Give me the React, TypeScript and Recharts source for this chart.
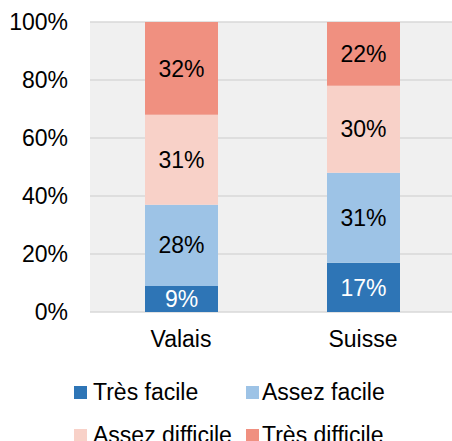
import { BarChart, Bar, XAxis, YAxis, CartesianGrid, LabelList } from 'recharts';

const regions = ['Valais', 'Suisse'];
const tresFacile = [9, 17];
const assezFacile = [28, 31];
const assezDifficile = [31, 30];
const tresDifficile = [32, 22];
const yTicks = [0, 20, 40, 60, 80, 100];

const series = [
  { key: 'tresFacile', name: 'Très facile', color: '#2E75B6', label: '#FFFFFF', values: tresFacile },
  { key: 'assezFacile', name: 'Assez facile', color: '#9DC3E6', label: '#000000', values: assezFacile },
  { key: 'assezDifficile', name: 'Assez difficile', color: '#F8D1C8', label: '#000000', values: assezDifficile },
  { key: 'tresDifficile', name: 'Très difficile', color: '#F09080', label: '#000000', values: tresDifficile },
];

const data = regions.map((region, i) => {
  const row: Record<string, string | number> = { region };
  series.forEach((s) => {
    row[s.key] = s.values[i];
  });
  return row;
});

const font = 'Arial, "Liberation Sans", sans-serif';

export default function App() {
  return (
    <div style={{ position: 'fixed', left: 0, top: 0, width: 452, height: 441, overflow: 'hidden', background: '#fff', fontFamily: font }}>
      <BarChart
        width={454}
        height={360}
        data={data}
        margin={{ top: 22, right: 0, left: 0, bottom: 0 }}
        barSize={73}
      >
        <CartesianGrid vertical={false} stroke="#D9D9D9" strokeWidth={1.5} fill="#F0F0F0" />
        <XAxis
          dataKey="region"
          axisLine={false}
          tickLine={false}
          tickSize={0}
          tickMargin={19}
          height={48}
          tick={{ fill: '#000', fontSize: 23, fontFamily: font }}
        />
        <YAxis
          type="number"
          domain={[0, 100]}
          ticks={yTicks}
          width={90}
          axisLine={false}
          tickLine={false}
          tickSize={0}
          tickMargin={22}
          tickFormatter={(v: number) => `${v}%`}
          tick={{ fill: '#000', fontSize: 23, fontFamily: font }}
        />
        {series.map((s) => (
          <Bar key={s.key} dataKey={s.key} name={s.name} stackId="a" fill={s.color} isAnimationActive={false}>
            <LabelList
              dataKey={s.key}
              position="center"
              formatter={(v) => `${v}%`}
              fill={s.label}
              fontSize={23}
              fontFamily={font}
            />
          </Bar>
        ))}
      </BarChart>
      {series.map((s, i) => {
        const col = i % 2;
        const row = Math.floor(i / 2);
        const left = col === 0 ? 74 : 246;
        const top = row === 0 ? 392 : 435;
        return (
          <div
            key={s.key}
            style={{ position: 'absolute', left, top: top - 14, height: 28, display: 'flex', alignItems: 'center', whiteSpace: 'nowrap' }}
          >
            <div style={{ width: 13, height: 13, background: s.color, marginRight: col === 0 ? 6 : 3 }} />
            <span style={{ fontSize: 23, color: '#000', lineHeight: '28px' }}>{s.name}</span>
          </div>
        );
      })}
    </div>
  );
}
